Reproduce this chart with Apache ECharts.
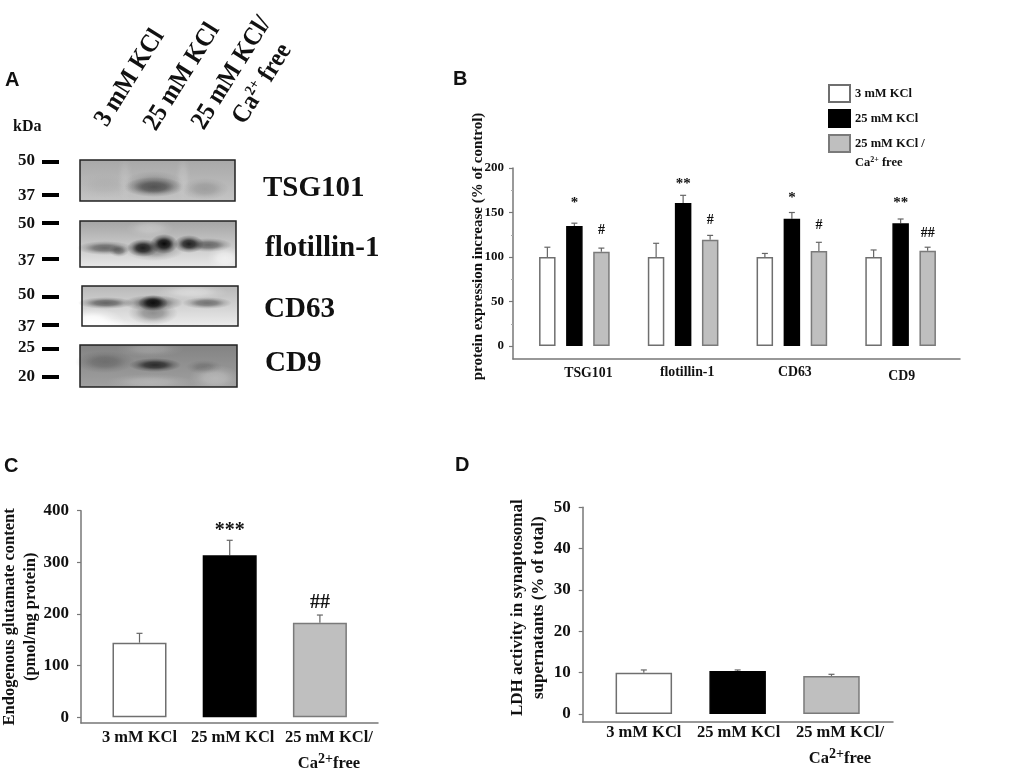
<!DOCTYPE html>
<html>
<head>
<meta charset="utf-8">
<title>Synaptosomal release panels</title>
<style>
  html, body { margin: 0; padding: 0; background: #fff; }
  #main { width: 1024px; height: 768px; }
</style>
<script src="https://cdn.jsdelivr.net/npm/echarts@6/dist/echarts.min.js"></script>
</head>
<body>
<div id="main"></div>
<script>
// panel B
var bCategories = ['TSG101', 'flotillin-1', 'CD63', 'CD9'];
var b3mM = [100, 100, 100, 100];
var b25mM = [134.8, 160.7, 143, 138];
var bCaFree = [106, 119.5, 106.7, 107];
var b3mMErr = [111, 115.4, 104, 107.9];
var b25mMErr = [138, 169.3, 150, 142.7];
var bCaFreeErr = [110, 124.3, 116.5, 111];
var bStars = ['*', '**', '*', '**'];
var bStarsAt = [161, 182, 166, 160];
var bHashes = ['#', '#', '#', '##'];
var bHashesAt = [130, 141, 136, 127];
var bTicks = [0, 50, 100, 150, 200];
var bMinorTicks = [25, 75, 125, 175];

// panel C
var cValues = [144.5, 313.6, 183];
var cErr = [162.6, 342.7, 198];
var cMarks = ['', '***', '##'];
var cMarksAt = [0, 362, 222];
var cTicks = [0, 100, 200, 300, 400];

// panel D
var dValues = [10, 10.4, 9.2];
var dErr = [10.65, 10.65, 9.6];
var dTicks = [0, 10, 20, 30, 40, 50];

var conditions = ['3 mM KCl', '25 mM KCl', '25 mM KCl /'];
var c3Categories = ['3 mM KCl', '25 mM KCl', '25 mM KCl/'];

var serif = '"Liberation Serif", "Times New Roman", serif';
var sans = '"Liberation Sans", Arial, sans-serif';
var ink = '#111';
var axisGray = '#777';
var barFill = ['#ffffff', '#000000', '#bfbfbf'];
var barEdge = ['#6f6f6f', '#000000', '#7a7a7a'];

var myChart = echarts.init(document.getElementById('main'));

// one error bar with its cap, stem starts on the bar top
function errorShape(api, color, offset, from, to) {
  var a = api.coord([api.value(0), from]);
  var b = api.coord([api.value(0), to]);
  var lineStyle = { stroke: color, lineWidth: 1.2 };
  return [
    { type: 'line', shape: { x1: a[0] + offset, y1: a[1], x2: b[0] + offset, y2: b[1] }, style: lineStyle },
    { type: 'line', shape: { x1: b[0] + offset - 3, y1: b[1], x2: b[0] + offset + 3, y2: b[1] }, style: lineStyle }
  ];
}

function errorSeries(gridIdx, name, values, tops, offset) {
  return {
    type: 'custom',
    name: name,
    xAxisIndex: gridIdx,
    yAxisIndex: gridIdx,
    silent: true,
    z: 1,
    data: values.map(function (v, i) { return [i, v, tops[i]]; }),
    renderItem: function (params, api) {
      return { type: 'group', children: errorShape(api, '#666', offset, api.value(1), api.value(2)) };
    }
  };
}

function markSeries(gridIdx, labels, at, font, offset) {
  return {
    type: 'custom',
    xAxisIndex: gridIdx,
    yAxisIndex: gridIdx,
    silent: true,
    z: 3,
    data: at.map(function (v, i) { return [i, v]; }),
    renderItem: function (params, api) {
      var p = api.coord([api.value(0), api.value(1)]);
      return {
        type: 'text',
        style: {
          text: labels[params.dataIndex],
          x: p[0] + offset,
          y: p[1],
          font: font,
          fill: ink,
          align: 'center',
          verticalAlign: 'middle'
        }
      };
    }
  };
}

// the drawn axes sit on a slightly wider grid than the bars
function frameAxes(gridIdx) {
  return {
    type: 'category',
    gridIndex: gridIdx,
    data: [''],
    axisLine: { onZero: false, lineStyle: { color: axisGray, width: 1.5 } },
    axisTick: { show: false },
    axisLabel: { show: false }
  };
}

function frameY(gridIdx, min, max, ticks, size, margin, name, nameGap, nameStyle) {
  return {
    type: 'value',
    gridIndex: gridIdx,
    min: min,
    max: max,
    name: name,
    nameLocation: 'middle',
    nameGap: nameGap,
    nameRotate: 90,
    nameMoveOverlap: false,
    nameTextStyle: Object.assign({ fontFamily: serif, fontWeight: 'bold', color: ink }, nameStyle),
    axisLine: { show: true, lineStyle: { color: axisGray, width: 1.5 } },
    axisTick: { show: true, length: 4, customValues: ticks, lineStyle: { color: axisGray, width: 1.2 } },
    axisLabel: { customValues: ticks, margin: margin, fontFamily: serif, fontWeight: 'bold', fontSize: size, color: ink },
    splitLine: { show: false }
  };
}

function hiddenY(gridIdx, min, max) {
  return { type: 'value', gridIndex: gridIdx, min: min, max: max, show: false, splitLine: { show: false } };
}

function labelRich(size, nudges) {
  var rich = {
    t: { fontFamily: serif, fontWeight: 'bold', fontSize: size, color: ink },
    s: { fontFamily: serif, fontWeight: 'bold', fontSize: size * 0.85, color: ink, padding: [0, 0, size * 0.55, 0] }
  };
  nudges.forEach(function (n, i) {
    rich['n' + i] = { fontFamily: serif, fontWeight: 'bold', fontSize: size, color: ink, padding: [n[1], 0, 0, n[0]] };
  });
  return rich;
}

function barAxis(gridIdx, categories, size, margin, nudges, twoLine) {
  return {
    type: 'category',
    gridIndex: gridIdx,
    data: categories,
    axisLine: { show: false, onZero: false },
    axisTick: { show: false },
    axisLabel: {
      interval: 0,
      margin: margin,
      lineHeight: 26,
      rich: labelRich(size, nudges),
      formatter: function (value, idx) {
        var first = '{n' + idx + '|' + value + '}';
        if (twoLine && idx === 2) return first + '\n{n' + idx + '|Ca}{s|2+}{t|free}';
        return first;
      }
    }
  };
}

// western blots of panel A, painted as soft patches
var blots = [
  { box: [80, 160, 155, 41], from: '#a8a8a8', to: '#c4c4c4', spots: [
    [154, 187, 30, 10, 'rgba(50,50,50,0.75)'],
    [154, 183, 30, 12, 'rgba(80,80,80,0.35)'],
    [205, 189, 24, 11, 'rgba(90,90,90,0.3)'],
    [105, 186, 28, 12, 'rgba(120,120,120,0.12)'],
    [125, 178, 8, 24, 'rgba(255,255,255,0.12)'],
    [183, 178, 8, 24, 'rgba(255,255,255,0.15)']
  ] },
  { box: [80, 221, 156, 46], from: '#a4a4a4', to: '#e8e8e8', spots: [
    [105, 248, 28, 7, 'rgba(40,40,40,0.6)'],
    [119, 251, 10, 6, 'rgba(40,40,40,0.5)'],
    [143, 248, 16, 9, 'rgba(0,0,0,0.9)'],
    [164, 244, 14, 10, 'rgba(0,0,0,1)'],
    [189, 244, 15, 9, 'rgba(0,0,0,0.85)'],
    [208, 245, 24, 7, 'rgba(40,40,40,0.6)'],
    [154, 250, 30, 11, 'rgba(50,50,50,0.4)'],
    [150, 228, 24, 9, 'rgba(255,255,255,0.25)'],
    [225, 258, 18, 12, 'rgba(255,255,255,0.55)']
  ] },
  { box: [82, 286, 156, 40], from: '#b8b8b8', to: '#ececec', spots: [
    [106, 303, 28, 6, 'rgba(30,30,30,0.6)'],
    [153, 303, 15, 8, 'rgba(0,0,0,1)'],
    [153, 303, 30, 8, 'rgba(20,20,20,0.6)'],
    [153, 313, 25, 12, 'rgba(50,50,50,0.45)'],
    [207, 303, 25, 6, 'rgba(40,40,40,0.55)'],
    [92, 322, 32, 14, 'rgba(255,255,255,1)'],
    [105, 326, 36, 8, 'rgba(255,255,255,0.8)'],
    [192, 292, 36, 8, 'rgba(255,255,255,0.4)']
  ] },
  { box: [80, 345, 157, 42], from: '#838383', to: '#a0a0a0', spots: [
    [105, 362, 30, 11, 'rgba(50,50,50,0.35)'],
    [155, 365, 26, 7, 'rgba(25,25,25,0.85)'],
    [204, 367, 18, 7, 'rgba(70,70,70,0.35)'],
    [150, 382, 44, 8, 'rgba(230,230,230,0.3)'],
    [215, 378, 26, 13, 'rgba(235,235,235,0.35)'],
    [150, 349, 34, 8, 'rgba(225,225,225,0.25)']
  ] }
];

var graphics = [];

function addText(text, x, y, font, extra) {
  graphics.push(Object.assign({
    type: 'text',
    x: x,
    y: y,
    silent: true,
    style: { text: text, font: font, fill: ink, verticalAlign: 'middle' }
  }, extra || {}));
}

function fade(color, factor) {
  return color.replace(/([\d.]+)\)$/, function (m, a) { return (parseFloat(a) * factor) + ')'; });
}

blots.forEach(function (b) {
  var box = b.box;
  graphics.push({
    type: 'rect', silent: true,
    shape: { x: box[0], y: box[1], width: box[2], height: box[3] },
    style: { fill: { type: 'linear', x: 0, y: 0, x2: 0, y2: 1, colorStops: [{ offset: 0, color: b.from }, { offset: 1, color: b.to }] } }
  });
  b.spots.forEach(function (s) {
    graphics.push({
      type: 'circle', silent: true,
      x: s[0], y: s[1], scaleX: s[2] / s[3],
      shape: { cx: 0, cy: 0, r: s[3] },
      style: { fill: { type: 'radial', x: 0.5, y: 0.5, r: 0.5, colorStops: [
        { offset: 0, color: s[4] },
        { offset: 0.4, color: fade(s[4], 0.8) },
        { offset: 0.7, color: fade(s[4], 0.3) },
        { offset: 1, color: fade(s[4], 0) }
      ] } }
    });
  });
  graphics.push({
    type: 'rect', silent: true,
    shape: { x: box[0], y: box[1], width: box[2], height: box[3] },
    style: { fill: 'none', stroke: '#222', lineWidth: 1.5 }
  });
});

// size markers
[['50', 162, 161], ['37', 195, 196], ['50', 223, 224], ['37', 259, 261],
 ['50', 297, 295], ['37', 325, 327], ['25', 349, 348], ['20', 377, 377]].forEach(function (m) {
  addText(m[0], 18, m[2], 'bold 17px ' + serif);
  graphics.push({ type: 'rect', silent: true, shape: { x: 42, y: m[1] - 2, width: 17, height: 4 }, style: { fill: '#000' } });
});
addText('kDa', 13, 127, 'bold 16px ' + serif);

// protein names
addText('TSG101', 263, 189, 'bold 29px ' + serif);
addText('flotillin-1', 265, 249, 'bold 29px ' + serif);
addText('CD63', 264, 310, 'bold 29px ' + serif);
addText('CD9', 265, 364, 'bold 29px ' + serif);

// panel letters
addText('A', 5, 80, 'bold 20px ' + sans);
addText('B', 453, 79, 'bold 20px ' + sans);
addText('C', 4, 466, 'bold 20px ' + sans);
addText('D', 455, 465, 'bold 20px ' + sans);

// lane headers
var laneRotation = 58 * Math.PI / 180;
[['3 mM KCl', 112, 131], ['25 mM KCl', 161, 135], ['25 mM KCl/', 209, 134]].forEach(function (h) {
  graphics.push({
    type: 'text', silent: true, x: h[1], y: h[2], rotation: laneRotation, scaleX: 0.92,
    style: { text: h[0], font: 'bold 26px ' + serif, fill: ink, verticalAlign: 'bottom' }
  });
});
graphics.push({
  type: 'text', silent: true, x: 250, y: 129, rotation: laneRotation, scaleX: 0.92,
  style: {
    text: '{t|Ca}{s|2+}{t| free}',
    verticalAlign: 'bottom',
    rich: {
      t: { font: 'bold 26px ' + serif, fill: ink },
      s: { font: 'bold 15px ' + serif, fill: ink, padding: [0, 0, 12, 0] }
    }
  }
});

// second line of the last legend entry
graphics.push({
  type: 'text', silent: true, x: 855, y: 163,
  style: {
    text: '{t|Ca}{s|2+}{t| free}',
    verticalAlign: 'middle',
    rich: {
      t: { font: 'bold 12.5px ' + serif, fill: ink },
      s: { font: 'bold 8px ' + serif, fill: ink, padding: [0, 0, 6, 0] }
    }
  }
});

var bStep = 27;
var bOffsets = [-bStep, 0, bStep];

function singleBar(gridIdx, values, width) {
  return {
    type: 'bar',
    xAxisIndex: gridIdx,
    yAxisIndex: gridIdx,
    barWidth: width,
    silent: true,
    z: 2,
    data: values.map(function (v, i) {
      return { value: v, itemStyle: { color: barFill[i], borderColor: barEdge[i], borderWidth: 1.5 } };
    })
  };
}

var option = {
  animation: false,
  backgroundColor: '#fff',
  graphic: { elements: graphics },
  legend: {
    left: 828,
    top: 84,
    padding: 0,
    orient: 'vertical',
    icon: 'rect',
    itemWidth: 21,
    itemHeight: 17,
    itemGap: 6,
    selectedMode: false,
    data: conditions,
    textStyle: { fontFamily: serif, fontWeight: 'bold', fontSize: 12.5, color: ink }
  },
  grid: [
    // B frame, B bars
    { left: 513, right: 64, top: 168, height: 191, outerBoundsMode: 'none' },
    { left: 520, right: 69, top: 168, height: 191, outerBoundsMode: 'none' },
    // C frame, C bars
    { left: 81, right: 646, top: 510.7, height: 212.3, outerBoundsMode: 'none' },
    { left: 94.4, right: 659, top: 510.7, height: 212.3, outerBoundsMode: 'none' },
    // D frame, D bars
    { left: 582.7, right: 131, top: 507.3, height: 214.7, outerBoundsMode: 'none' },
    { left: 596.9, right: 145.6, top: 507.3, height: 214.7, outerBoundsMode: 'none' }
  ],
  xAxis: [
    frameAxes(0),
    barAxis(1, bCategories, 13.8, 0, [[28, 2], [8, 0], [6, 0], [2, 8]], false),
    frameAxes(2),
    barAxis(3, c3Categories, 16.5, 2, [[0, 0], [6, 0], [18, 0]], true),
    frameAxes(4),
    barAxis(5, c3Categories, 16.5, -2, [[0, 0], [2, 0], [17, 0]], true)
  ],
  yAxis: [
    frameY(0, -14.6, 200, bTicks, 13, 9, 'protein expression increase (% of control)', 27,
      { fontSize: 15, padding: [0, 0, 0, 34] }),
    hiddenY(1, -14.6, 200),
    frameY(2, -11, 400, cTicks, 17, 12, 'Endogenous glutamate content\n(pmol/mg protein)', 40,
      { fontSize: 16.5, lineHeight: 21 }),
    hiddenY(3, -11, 400),
    frameY(4, -1.94, 50, dTicks, 17, 12, 'LDH activity in synaptosomal\nsupernatants (% of total)', 34,
      { fontSize: 17, lineHeight: 21, padding: [0, 0, 0, 14] }),
    hiddenY(5, -1.94, 50),
    // short faint in-between ticks of panel B
    {
      type: 'value', gridIndex: 0, min: -14.6, max: 200, position: 'left',
      axisLine: { show: false },
      axisLabel: { show: false },
      splitLine: { show: false },
      axisTick: { show: true, length: 2, customValues: bMinorTicks, lineStyle: { color: '#aaa', width: 1 } }
    }
  ],
  series: [
    { type: 'bar', name: conditions[0], xAxisIndex: 1, yAxisIndex: 1, data: b3mM, barWidth: 16.5, barGap: '64%', silent: true, z: 2,
      itemStyle: { color: barFill[0], borderColor: barEdge[0], borderWidth: 1.5 } },
    { type: 'bar', name: conditions[1], xAxisIndex: 1, yAxisIndex: 1, data: b25mM, barWidth: 16.5, barGap: '64%', silent: true, z: 2,
      itemStyle: { color: barFill[1], borderColor: barEdge[1], borderWidth: 1.5 } },
    { type: 'bar', name: conditions[2], xAxisIndex: 1, yAxisIndex: 1, data: bCaFree, barWidth: 16.5, barGap: '64%', silent: true, z: 2,
      itemStyle: { color: barFill[2], borderColor: barEdge[2], borderWidth: 1.5 } },
    errorSeries(1, 'err1', b3mM, b3mMErr, bOffsets[0]),
    errorSeries(1, 'err2', b25mM, b25mMErr, bOffsets[1]),
    errorSeries(1, 'err3', bCaFree, bCaFreeErr, bOffsets[2]),
    markSeries(1, bStars, bStarsAt, 'bold 15px ' + serif, 0),
    markSeries(1, bHashes, bHashesAt, 'bold 14px ' + serif, bStep),

    singleBar(3, cValues, 54),
    errorSeries(3, 'errC', cValues, cErr, 0),
    markSeries(3, cMarks, cMarksAt, 'bold 20px ' + serif, 0),

    singleBar(5, dValues, 56.5),
    errorSeries(5, 'errD', dValues, dErr, 0)
  ]
};

myChart.setOption(option);

window.addEventListener('resize', function () {
  myChart.resize();
});
</script>
</body>
</html>
